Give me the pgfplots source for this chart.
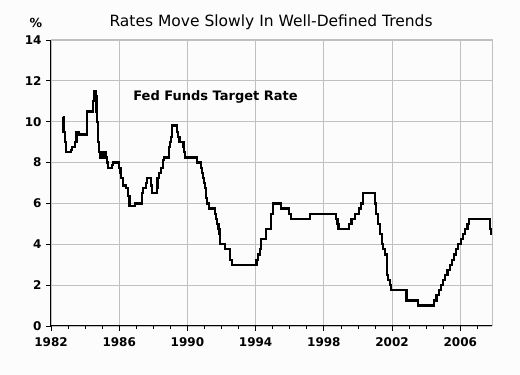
\documentclass[border=0pt]{standalone}
\usepackage{pgfplots}
\pgfplotsset{compat=1.18}
\usepackage{fontspec}
\setmainfont{DejaVu Sans}
\definecolor{bgc}{RGB}{252,252,252}
\definecolor{gridc}{RGB}{192,192,192}
\begin{document}
\begin{tikzpicture}
\path[use as bounding box, fill=bgc] (-51pt,-49pt) rectangle (469pt,326pt);
\begin{axis}[
  scale only axis,
  width=441pt, height=286pt,
  xmin=1982, xmax=2007.86,
  ymin=0, ymax=14,
  axis lines=left,
  axis line style={-, black, line width=1pt},
  xtick={1982,1986,1990,1994,1998,2002,2006},
  minor xtick={1983,1984,1985,1987,1988,1989,1991,1992,1993,1995,1996,1997,1999,2000,2001,2003,2004,2005,2007},
  ytick={0,2,4,6,8,10,12,14},
  tick align=outside,
  major tick length=5pt,
  minor tick length=3pt,
  tick style={black, line width=0.8pt},
  xmajorgrids, ymajorgrids,
  major grid style={gridc, line width=0.9pt},
  /pgf/number format/1000 sep={},
  /pgf/number format/assume math mode=true,
  tick label style={font=\fontsize{12}{14}\selectfont\bfseries},
  xticklabel style={yshift=-3pt},
  yticklabel style={xshift=-1pt},
  title={Rates Move Slowly In Well-Defined Trends},
  title style={at={(axis description cs:0.499,1)}, anchor=base, yshift=7pt, font=\fontsize{15.5}{18}\selectfont},
  clip=false,
]
\draw[gridc, line width=1pt] (rel axis cs:0,1) -- (rel axis cs:1,1) -- (rel axis cs:1,0);
\addplot[const plot, black, line width=2.2pt] coordinates {
(1982.70,10.25) (1982.73,9.5) (1982.80,9.0) (1982.88,8.5)
(1983.15,8.625) (1983.25,8.75) (1983.42,9.0) (1983.50,9.5) (1983.65,9.375)
(1984.13,10.5) (1984.47,11.0) (1984.52,11.5) (1984.62,11.25) (1984.67,10.5)
(1984.72,10.0) (1984.77,9.0) (1984.83,8.5) (1984.88,8.25) (1984.95,8.5)
(1985.02,8.25) (1985.10,8.5) (1985.20,8.25) (1985.28,8.0) (1985.36,7.75)
(1985.60,7.875) (1985.65,8.0) (1985.97,7.75) (1986.07,7.5) (1986.12,7.25)
(1986.20,6.875) (1986.42,6.75) (1986.50,6.375) (1986.60,5.875) (1986.93,6.0)
(1987.32,6.5) (1987.38,6.75) (1987.55,7.0) (1987.62,7.25) (1987.85,6.875)
(1987.92,6.5) (1988.20,6.75) (1988.25,7.25) (1988.35,7.5) (1988.45,7.75)
(1988.55,8.125) (1988.62,8.25) (1988.90,8.75) (1988.98,9.0) (1989.05,9.25)
(1989.08,9.8125) (1989.37,9.5) (1989.45,9.25) (1989.53,9.0) (1989.77,8.75)
(1989.82,8.5) (1989.86,8.25) (1990.55,8.0) (1990.80,7.75) (1990.85,7.5)
(1990.90,7.25) (1990.95,7.0) (1991.02,6.75) (1991.08,6.25) (1991.15,6.0)
(1991.28,5.75) (1991.60,5.5) (1991.67,5.25) (1991.75,5.0) (1991.82,4.75)
(1991.88,4.5) (1991.93,4.0) (1992.20,3.75) (1992.50,3.25) (1992.60,3.0)
(1994.05,3.25) (1994.15,3.5) (1994.25,3.75) (1994.30,4.25) (1994.62,4.75)
(1994.90,5.5) (1995.03,6.0) (1995.48,5.75) (1995.95,5.5) (1996.05,5.25)
(1997.20,5.5) (1998.72,5.25) (1998.80,5.0) (1998.86,4.75) (1999.47,5.0)
(1999.62,5.25) (1999.81,5.5) (2000.05,5.75) (2000.20,6.0) (2000.30,6.5)
(2001.00,6.0) (2001.08,5.5) (2001.19,5.0) (2001.29,4.5) (2001.39,4.0)
(2001.48,3.75) (2001.58,3.5) (2001.68,2.5) (2001.77,2.25) (2001.87,2.0)
(2001.96,1.75) (2002.85,1.25) (2003.52,1.0) (2004.48,1.25) (2004.60,1.5)
(2004.75,1.75) (2004.87,2.0) (2005.00,2.25) (2005.12,2.5) (2005.25,2.75)
(2005.38,3.0) (2005.50,3.25) (2005.63,3.5) (2005.75,3.75) (2005.88,4.0)
(2006.02,4.25) (2006.15,4.5) (2006.28,4.75) (2006.42,5.0) (2006.50,5.25)
(2007.72,4.75) (2007.80,4.5) (2007.86,4.5)
};
\node[font=\fontsize{13}{15}\selectfont\bfseries] at (axis cs:1991.65,11.19) {Fed Funds Target Rate};
\node[font=\fontsize{12.5}{14}\selectfont\bfseries, anchor=base] at (axis description cs:-0.034,1.045) {\%};
\end{axis}
\end{tikzpicture}
\end{document}
